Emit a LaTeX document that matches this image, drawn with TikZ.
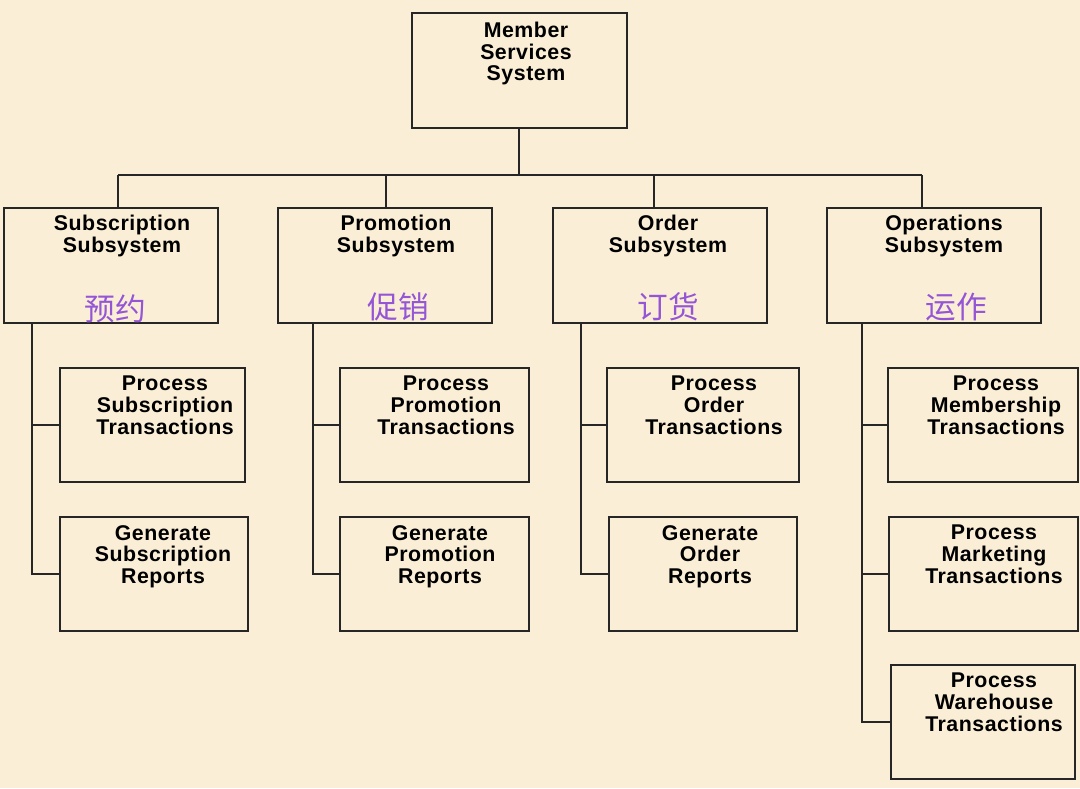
\documentclass[tikz,border=0pt]{standalone}
\usepackage{fontspec}
\setmainfont{Liberation Sans}
\newfontfamily\lblfont[LetterSpace=2.5]{Liberation Sans}
\newfontfamily\cjk{Noto Sans CJK SC}
\usetikzlibrary{fit}
\definecolor{bg}{HTML}{FAEFD6}
\definecolor{cn}{HTML}{9455D6}
\tikzset{
  box/.style={draw=black!85, line width=1.3pt, inner sep=0pt},
  lbl/.style={inner sep=0pt, anchor=north, align=center, font=\lblfont\bfseries\fontsize{16}{16.2}\selectfont},
  cnlbl/.style={inner sep=0pt, text=cn, font=\cjk\fontsize{23}{24}\selectfont},
  conn/.style={draw=black!85, line width=1.3pt}
}
\begin{document}
\begin{tikzpicture}[x=0.75pt,y=-0.75pt]
\fill[bg] (0,0) rectangle (1080,788);
\useasboundingbox (0,0) rectangle (1080,788);
% boxes
\node[box, fit={(412,13) (627,128)}] (top) {};
\node[box, fit={(4,208) (218,323)}] (sub) {};
\node[box, fit={(278,208) (492,323)}] (pro) {};
\node[box, fit={(553,208) (767,323)}] (ord) {};
\node[box, fit={(827,208) (1041,323)}] (ops) {};
\node[box, fit={(60,368) (245,482)}] (p1) {};
\node[box, fit={(60,517) (248,631)}] (g1) {};
\node[box, fit={(340,368) (529,482)}] (p2) {};
\node[box, fit={(340,517) (529,631)}] (g2) {};
\node[box, fit={(607,368) (799,482)}] (p3) {};
\node[box, fit={(609,517) (797,631)}] (g3) {};
\node[box, fit={(888,368) (1078,482)}] (p4) {};
\node[box, fit={(889,517) (1078,631)}] (m4) {};
\node[box, fit={(891,665) (1075,779)}] (w4) {};
% texts
\node[lbl] (ttop) at (526,22) {Member\\Services\\System};
\node[lbl] (tsub) at (122,215) {Subscription\\Subsystem};
\node[lbl] (tpro) at (396,215) {Promotion\\Subsystem};
\node[lbl] (tord) at (668,215) {Order\\Subsystem};
\node[lbl] (tops) at (944,215) {Operations\\Subsystem};
\node[lbl] (tp1) at (165,376) {Process\\Subscription\\Transactions};
\node[lbl] (tg1) at (163,525) {Generate\\Subscription\\Reports};
\node[lbl] (tp2) at (446,376) {Process\\Promotion\\Transactions};
\node[lbl] (tg2) at (440,525) {Generate\\Promotion\\Reports};
\node[lbl] (tp3) at (714,376) {Process\\Order\\Transactions};
\node[lbl] (tg3) at (710,525) {Generate\\Order\\Reports};
\node[lbl] (tp4) at (996,376) {Process\\Membership\\Transactions};
\node[lbl] (tm4) at (994,525) {Process\\Marketing\\Transactions};
\node[lbl] (tw4) at (994,673) {Process\\Warehouse\\Transactions};
% chinese labels
\node[cnlbl] (c1) at (115,309) {预约};
\node[cnlbl] (c2) at (398,307) {促销};
\node[cnlbl] (c3) at (668,307) {订货};
\node[cnlbl] (c4) at (956,307) {运作};
% connectors top
\coordinate (bus) at (519,175);
\coordinate (d1) at (118,208);
\coordinate (d2) at (386,208);
\coordinate (d3) at (654,208);
\coordinate (d4) at (922,208);
\draw[conn] (top.south -| bus) -- (bus);
\draw[conn] (d1 |- bus) -- (d4 |- bus);
\foreach \d in {d1,d2,d3,d4} \draw[conn] (\d |- bus) -- (\d);
% branches
\coordinate (s1) at (32,323);
\coordinate (s2) at (313,323);
\coordinate (s3) at (581,323);
\coordinate (s4) at (862,323);
\draw[conn] (s1) |- (g1.west);
\draw[conn] (s1) |- (p1.west);
\draw[conn] (s2) |- (g2.west);
\draw[conn] (s2) |- (p2.west);
\draw[conn] (s3) |- (g3.west);
\draw[conn] (s3) |- (p3.west);
\draw[conn] (s4) |- (w4.west);
\draw[conn] (s4) |- (m4.west);
\draw[conn] (s4) |- (p4.west);
\end{tikzpicture}
\end{document}
